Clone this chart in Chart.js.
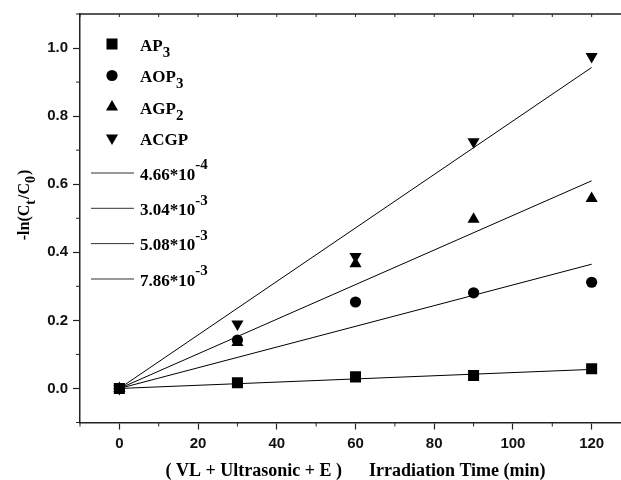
<!DOCTYPE html>
<html>
<head>
<meta charset="utf-8">
<script src="https://cdn.jsdelivr.net/npm/chart.js@4.4.1/dist/chart.umd.min.js"></script>
<style>
html, body { margin: 0; padding: 0; background: #fff; overflow: hidden; }
#wrap { width: 640px; height: 480px; }
</style>
</head>
<body>
<div id="wrap"><canvas id="myChart"></canvas></div>
<script>
// Irradiation time (min)
var times = [0, 30, 60, 90, 120];
// -ln(Ct/C0)
var AP3  = [0, 0.017, 0.034, 0.038, 0.058];
var AOP3 = [0, 0.142, 0.254, 0.281, 0.312];
var AGP2 = [0, 0.135, 0.366, 0.497, 0.558];
var ACGP = [0, 0.189, 0.388, 0.725, 0.975];

// linear fits through the origin (end points)
var fitTimes = [0, 120];
var fitAP3  = [0, 0.056];
var fitAOP3 = [0, 0.365];
var fitAGP2 = [0, 0.610];
var fitACGP = [0, 0.943];

var seriesLabels = ['AP_{3}', 'AOP_{3}', 'AGP_{2}', 'ACGP'];
var fitLabels = ['4.66*10^{-4}', '3.04*10^{-3}', '5.08*10^{-3}', '7.86*10^{-3}'];

var xTickValues = [0, 20, 40, 60, 80, 100, 120];
var yTickValues = [0, 0.2, 0.4, 0.6, 0.8, 1.0];

var xTitle = '( VL + Ultrasonic + E )      Irradiation Time (min)';
var yTitle = '-ln(C_{t}/C_{0})';

var serif = '"Liberation Serif", "Times New Roman", serif';
var sans = '"Liberation Sans", Arial, sans-serif';

function pts(xs, ys) {
    return xs.map(function (t, i) { return { x: t, y: ys[i] }; });
}

// split 'AP_{3}' / '10^{-4}' into normal / sub / sup pieces
function parseRich(s) {
    var out = [], re = /([_^])\{([^}]*)\}/g, last = 0, m;
    while ((m = re.exec(s)) !== null) {
        if (m.index > last) out.push([s.slice(last, m.index), 0]);
        out.push([m[2], m[1] === '_' ? -1 : 1]);
        last = re.lastIndex;
    }
    if (last < s.length) out.push([s.slice(last), 0]);
    return out;
}

function richFont(mode, size) {
    if (mode === 0) return 'bold ' + size + 'px ' + serif;
    return 'bold ' + Math.round(size * 0.88) + 'px ' + serif;
}

function richWidth(ctx, segs, size) {
    var w = 0;
    segs.forEach(function (s) { ctx.font = richFont(s[1], size); w += ctx.measureText(s[0]).width; });
    return w;
}

function drawRich(ctx, segs, x, y, size) {
    ctx.textAlign = 'left';
    ctx.textBaseline = 'alphabetic';
    segs.forEach(function (s) {
        ctx.font = richFont(s[1], size);
        var dy = s[1] < 0 ? size * 0.38 : (s[1] > 0 ? -size * 0.6 : 0);
        ctx.fillText(s[0], x, y + dy);
        x += ctx.measureText(s[0]).width + (s[1] !== 0 ? 1 : 0);
    });
}

var markerStyles = [
    { pointStyle: 'rect', radius: 7.8, rotation: 0 },
    { pointStyle: 'circle', radius: 5.6, rotation: 0 },
    { pointStyle: 'triangle', radius: 7, rotation: 0 },
    { pointStyle: 'triangle', radius: 7, rotation: 180 }
];

// frame, minor ticks, legend and y title
var extras = {
    id: 'extras',
    afterDraw: function (chart) {
        var ctx = chart.ctx, a = chart.chartArea;
        var x = chart.scales.x, y = chart.scales.y;
        ctx.save();
        ctx.strokeStyle = '#222';
        ctx.lineWidth = 1.5;
        ctx.beginPath();
        ctx.moveTo(a.left, a.top);
        ctx.lineTo(a.right, a.top);
        ctx.lineTo(a.right, a.bottom);
        ctx.stroke();

        ctx.lineWidth = 1;
        ctx.beginPath();
        for (var k = -1; k <= 13; k++) {
            var v = k * 10, px = x.getPixelForValue(v);
            if (k % 2 !== 0 || k < 0 || k > 12) {
                ctx.moveTo(px, a.bottom);
                ctx.lineTo(px, a.bottom + 4);
            }
            ctx.moveTo(px, a.top);
            ctx.lineTo(px, a.top + 3);
        }
        for (var j = -1; j <= 11; j++) {
            var py = y.getPixelForValue(j / 10);
            if (j % 2 !== 0 || j < 0 || j > 10) {
                ctx.moveTo(a.left, py);
                ctx.lineTo(a.left - 4, py);
            }
        }
        ctx.stroke();

        // legend
        ctx.fillStyle = '#000';
        var symRows = [44, 75.5, 107, 138];
        var lineRows = [173, 208.3, 243.6, 279];
        for (var i = 0; i < 4; i++) {
            var ds = chart.data.datasets[i];
            var st = markerStyles[i];
            Chart.helpers.drawPoint(ctx, {
                pointStyle: st.pointStyle, radius: st.radius, rotation: st.rotation, borderWidth: 0
            }, 112, symRows[i]);
            drawRich(ctx, parseRich(ds.label), 140, symRows[i] + 6.5, 17);
        }
        ctx.strokeStyle = '#333';
        ctx.lineWidth = 1;
        for (var n = 0; n < 4; n++) {
            var fd = chart.data.datasets[4 + n];
            ctx.beginPath();
            ctx.moveTo(91, lineRows[n]);
            ctx.lineTo(134, lineRows[n]);
            ctx.stroke();
            drawRich(ctx, parseRich(fd.label), 140, lineRows[n] + 6.5, 17);
        }

        // y axis title
        var segs = parseRich(yTitle);
        ctx.translate(29, 206);
        ctx.rotate(-Math.PI / 2);
        var w = richWidth(ctx, segs, 16);
        drawRich(ctx, segs, -w / 2, 0, 16);
        ctx.restore();
    }
};

var ctx = document.getElementById('myChart').getContext('2d');

var scatterSets = [AP3, AOP3, AGP2, ACGP].map(function (vals, i) {
    return {
        label: seriesLabels[i],
        data: pts(times, vals),
        showLine: false,
        pointStyle: markerStyles[i].pointStyle,
        pointRadius: markerStyles[i].radius,
        pointRotation: markerStyles[i].rotation,
        pointBackgroundColor: '#000',
        pointBorderColor: '#000',
        pointBorderWidth: 0
    };
});

var fitSets = [fitAP3, fitAOP3, fitAGP2, fitACGP].map(function (vals, i) {
    return {
        label: fitLabels[i],
        data: pts(fitTimes, vals),
        showLine: true,
        borderColor: '#000',
        borderWidth: 1,
        pointRadius: 0
    };
});

var myChart = new Chart(ctx, {
    type: 'scatter',
    data: { datasets: scatterSets.concat(fitSets) },
    options: {
        responsive: true,
        maintainAspectRatio: false,
        animation: false,
        layout: { padding: { left: 0, top: 12, right: 9, bottom: 0 } },
        plugins: {
            legend: { display: false },
            tooltip: { enabled: false }
        },
        scales: {
            x: {
                type: 'linear',
                min: -10,
                max: 130,
                afterBuildTicks: function (axis) {
                    axis.ticks = xTickValues.map(function (v) { return { value: v }; });
                },
                afterFit: function (axis) { axis.height = 57.5; },
                ticks: {
                    color: '#111',
                    padding: 5,
                    maxRotation: 0,
                    autoSkip: false,
                    font: { family: sans, size: 15, weight: 'bold' }
                },
                grid: { drawOnChartArea: false, tickLength: 7, tickColor: '#222', tickWidth: 1.2 },
                border: { color: '#222', width: 1.5 },
                title: {
                    display: true,
                    text: xTitle,
                    color: '#000',
                    padding: { top: 0, bottom: -2 },
                    font: { family: serif, size: 18, weight: 'bold' }
                }
            },
            y: {
                type: 'linear',
                min: -0.1,
                max: 1.1,
                afterBuildTicks: function (axis) {
                    axis.ticks = yTickValues.map(function (v) { return { value: v }; });
                },
                afterFit: function (axis) { axis.width = 80; },
                ticks: {
                    color: '#111',
                    padding: 5,
                    autoSkip: false,
                    font: { family: sans, size: 15, weight: 'bold' },
                    callback: function (v) { return Number(v).toFixed(1); }
                },
                grid: { drawOnChartArea: false, tickLength: 7, tickColor: '#222', tickWidth: 1.2 },
                border: { color: '#222', width: 1.5 }
            }
        }
    },
    plugins: [extras]
});
</script>
</body>
</html>
